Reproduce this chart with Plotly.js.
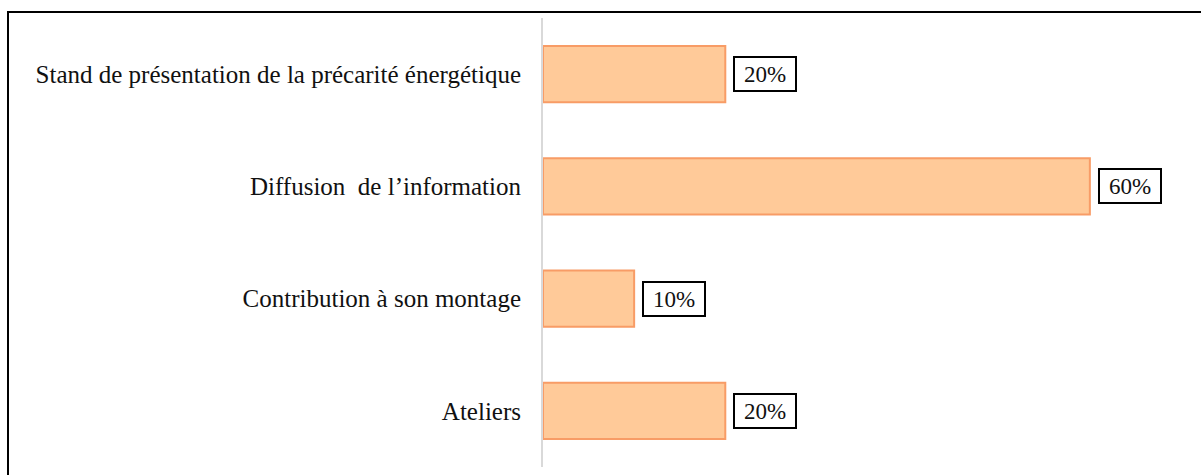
<!DOCTYPE html>
<html>
<head>
<meta charset="utf-8">
<script src="https://cdn.plot.ly/plotly-3.0.1.min.js"></script>
<style>
  body { margin: 0; background: #fff; }
  #frame { position: absolute; left: 7px; top: 11px; width: 1194px; height: 464px;
           border-left: 2px solid #000; border-top: 2px solid #000; box-sizing: border-box; }
  #myDiv { position: absolute; left: 0; top: 0; width: 1201px; height: 475px; }
</style>
</head>
<body>
<div id="frame"></div>
<div id="myDiv"></div>
<script>
let categories = [
    "Stand de présentation de la précarité énergétique",
    "Diffusion  de l’information",
    "Contribution à son montage",
    "Ateliers"
];
let values = [0.20, 0.60, 0.10, 0.20];
let valueLabels = ["20%", "60%", "10%", "20%"];

let annotations = [];
for (let i = 0; i < categories.length; i++) {
    annotations.push({
        x: values[i],
        y: categories[i],
        xref: 'x',
        yref: 'y',
        text: valueLabels[i],
        showarrow: false,
        xanchor: 'left',
        xshift: 8,
        width: 56,
        height: 28,
        font: { family: 'Liberation Serif', size: 23, color: '#111' },
        bordercolor: '#000',
        borderwidth: 2,
        borderpad: 2,
        bgcolor: '#fff'
    });
}

let layout = {
    width: 1201,
    height: 475,
    margin: { l: 543, r: 20, t: 18, b: 8 },
    paper_bgcolor: 'rgba(0,0,0,0)',
    plot_bgcolor: 'rgba(0,0,0,0)',
    showlegend: false,
    bargap: 0.5,
    xaxis: {
        range: [0, 0.7],
        showgrid: false,
        zeroline: false,
        showticklabels: false,
        showline: false
    },
    yaxis: {
        type: 'category',
        autorange: 'reversed',
        showgrid: false,
        zeroline: false,
        showline: true,
        linecolor: '#d9d9d9',
        linewidth: 2,
        ticks: '',
        ticklabelstandoff: 15,
        tickfont: { family: 'Liberation Serif', size: 25, color: '#111' }
    },
    annotations: annotations
};

Plotly.newPlot(
    "myDiv",
    [{
        type: 'bar',
        orientation: 'h',
        x: values,
        y: categories,
        marker: { color: '#FFCA99', line: { color: '#F89C66', width: 2 } },
        hoverinfo: 'none'
    }],
    layout,
    { displayModeBar: false, staticPlot: true }
);
</script>
</body>
</html>
